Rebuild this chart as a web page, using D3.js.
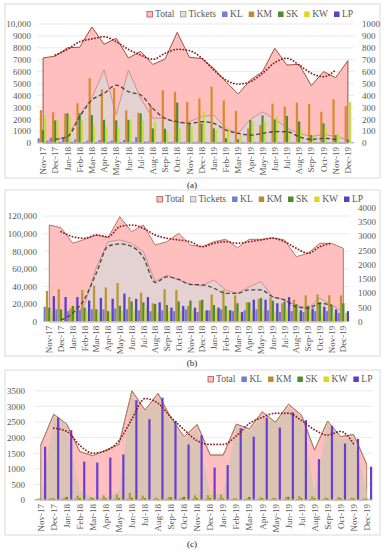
<!DOCTYPE html>
<html>
<head>
<meta charset="utf-8">
<script src="https://cdn.jsdelivr.net/npm/d3@7"></script>
<style>
body { margin: 0; background: #fff; }
</style>
</head>
<body>
<script>
var months = ["Nov-17","Dec-17","Jan-18","Feb-18","Mar-18","Apr-18","May-18","Jun-18","Jul-18","Aug-18","Sep-18","Oct-18",
	"Nov-18","Dec-18","Jan-19","Feb-19","Mar-19","Apr-19","May-19","Jun-19","Jul-19","Aug-19","Sep-19","Oct-19","Nov-19","Dec-19"];

// (a)
var totalA = [7150, 7300, 8000, 8050, 9750, 8300, 8800, 7150, 7700, 6600, 7050, 9300, 7200, 7100, 6280, 5150, 4120, 5290, 6000, 7960, 6550, 6610, 4820, 6000, 5490, 6920];
var totalTrendA = [null, 7390, 7870, 8510, 8740, 8930, 8510, 7870, 7390, 7030, 7530, 7870, 7760, 7150, 6130, 5290, 4950, 5150, 5860, 6750, 7120, 6550, 5860, 5570, 6130, null];
var ticketsA = [10, 30, 50, 235, 380, 613, 235, 613, 375, 207, 210, 165, 179, 221, 235, 125, 80, 200, 260, 200, 125, 80, 55, 70, 55, 25];
var ticketsTrendA = [null, 31, 53, 221, 361, 417, 487, 431, 403, 291, 207, 179, 165, 179, 165, 109, 81, 67, 81, 95, 95, 53, 30, 39, 30, null];
var klA = [400, 450, 450, 300, 200, 250, 200, 250, 500, 150, 100, 100, 100, 100, 50, 50, 50, 50, 50, 50, 50, 50, 50, 50, 50, 50];
var kmA = [2770, 2580, 2490, 3340, 5440, 4500, 4620, 2750, 2550, 3100, 4450, 4310, 3450, 3750, 4730, 3580, 2690, 1230, 1510, 3310, 3050, 3400, 3270, 2630, 3670, 3100];
var skA = [1090, 1900, 2490, 2490, 2350, 1950, 1900, 1950, 2490, 1230, 1200, 3400, 1650, 1650, 1230, 400, 300, 1930, 2320, 1960, 2280, 1820, 670, 1650, 670, 300];
var kwA = [2350, 1930, 2210, 1930, 1510, 1400, 1300, 1900, 1850, 1820, 950, 1230, 1400, 2630, 1090, 1230, 670, 1820, 1790, 2280, 1090, 1090, 670, 1370, 810, 3440];
var lpA = [120, 100, 100, 80, 80, 90, 80, 80, 100, 80, 80, 70, 70, 70, 60, 60, 60, 60, 60, 60, 60, 60, 60, 60, 60, 60];

// (b)
var totalB = [109900, 106800, 89100, 93600, 98500, 95500, 119300, 102300, 109900, 87200, 90900, 100400, 87200, 85200, 90900, 93600, 84100, 93600, 93600, 95500, 92800, 73900, 77700, 89100, 89100, 83400];
var totalTrendB = [null, 102300, 96600, 94800, 98500, 96600, 108000, 109900, 106100, 98500, 94800, 92800, 90900, 85200, 89100, 90900, 89100, 90900, 92800, 94800, 90900, 83400, 77700, 85200, 89100, null];
var ticketsB = [50, 250, 100, 600, 1900, 2800, 2860, 2740, 2450, 1400, 1630, 1460, 1310, 1250, 1460, 1110, 990, 1220, 1400, 870, 760, 580, 470, 820, 580, 350];
var ticketsTrendB = [null, 60, 300, 800, 1700, 2640, 2720, 2630, 2250, 1370, 1570, 1480, 1300, 1290, 1170, 990, 990, 1110, 1110, 870, 760, 520, 470, 640, 580, null];
var klB = [17000, 14000, 12000, 13000, 14000, 14000, 15000, 14000, 13000, 12000, 13000, 12000, 14000, 11000, 13000, 14000, 12000, 13000, 14000, 13000, 11000, 12000, 11000, 12000, 12000, 10000];
var kmB = [35000, 37000, 15000, 36000, 41000, 39000, 44000, 28000, 33000, 21000, 37000, 36000, 18000, 24000, 31000, 36000, 30000, 22000, 26000, 28000, 21000, 25000, 30000, 31000, 30000, 30000];
var skB = [16000, 14000, 18000, 16000, 14000, 12000, 18000, 23000, 22000, 20000, 19000, 23000, 24000, 25000, 19000, 18000, 21000, 22000, 27000, 24000, 23000, 20000, 18000, 22000, 19000, 21000];
var kwB = [12000, 10000, 17000, 12000, 10000, 10000, 12000, 14000, 15000, 11000, 12000, 12000, 13000, 12000, 14000, 13000, 10000, 13000, 13000, 12000, 14000, 11000, 12000, 10000, 9000, 10000];
var lpB = [29000, 28000, 28000, 24000, 27000, 26000, 32000, 26000, 28000, 22000, 16000, 18000, 16000, 13000, 16000, 13000, 11000, 25000, 25000, 21000, 28000, 13000, 15000, 17000, 14000, 12000];

// (c)
var totalC = [1760, 2750, 2430, 1550, 1420, 1600, 1780, 3500, 2880, 3420, 2620, 2030, 2420, 1440, 1440, 2430, 2280, 2830, 2490, 3070, 2720, 1600, 2530, 2030, 2100, 1150];
var innerC = [0, 2700, 2350, 300, 100, 100, 300, 3300, 2800, 3300, 2550, 1950, 2300, 200, 200, 2350, 2200, 2700, 2450, 2950, 2650, 300, 2450, 1950, 2000, 300];
var totalTrendC = [null, 2300, 2200, 1750, 1500, 1580, 1900, 2600, 3250, 3100, 2650, 2250, 1900, 1780, 1780, 2050, 2450, 2650, 2780, 2780, 2550, 2250, 2080, 2200, 1800, null];
var klC = [30, 40, 40, 40, 30, 40, 40, 40, 40, 30, 40, 40, 40, 40, 40, 30, 30, 30, 30, 30, 30, 30, 30, 30, 30, 30];
var kmC = [50, 60, 70, 140, 90, 150, 180, 230, 140, 80, 100, 80, 150, 160, 180, 60, 50, 80, 70, 100, 130, 120, 80, 100, 80, 50];
var skC = [40, 50, 100, 60, 60, 50, 60, 70, 60, 40, 80, 100, 60, 60, 50, 40, 100, 60, 50, 100, 60, 60, 50, 60, 50, 40];
var kwC = [40, 40, 60, 120, 80, 100, 120, 150, 80, 60, 60, 70, 150, 200, 90, 40, 40, 70, 50, 70, 60, 70, 50, 60, 50, 40];
var lpC = [1710, 2640, 2240, 1230, 1200, 1360, 1460, 3200, 2590, 3280, 2530, 1780, 2080, 1040, 1120, 2300, 2030, 2640, 2320, 2810, 2560, 1310, 2380, 1810, 1960, 1070];

var PINK = "#ffbfbf";
var colKL = "#6f7fd8", colSK = "#4e8a2e", colKW = "#c8dc3c", colLP = "#5a3fc8";
var FONT = "'Liberation Serif', 'Times New Roman', serif";

var svg = d3.select("body").append("svg")
	.attr("width", 385)
	.attr("height", 550);

var fmt = function (d) { return d >= 10000 ? d3.format(",")(d) : d; };

function drawPanel(p) {
	var g = svg.append("g");

	g.append("rect")
		.attr("x", p.box[0]).attr("y", p.box[1])
		.attr("width", p.box[2]).attr("height", p.box[3])
		.attr("fill", "#fff")
		.attr("stroke", "#d9d9d9");

	var x = d3.scaleBand().domain(months).range(p.xRange);
	var cx = function (i) { return x(months[i]) + x.bandwidth() / 2; };
	var yL = d3.scaleLinear().domain(p.left.domain).range(p.yRange);
	var yR = p.right ? d3.scaleLinear().domain(p.right.domain).range(p.yRange) : null;

	// gridlines
	g.selectAll("line.grid")
		.data(p.left.ticks.filter(function (d) { return d > 0; }))
		.enter().append("line")
		.attr("class", "grid")
		.attr("x1", p.xRange[0]).attr("x2", p.xRange[1])
		.attr("y1", function (d) { return yL(d); })
		.attr("y2", function (d) { return yL(d); })
		.attr("stroke", "#e3e3e3")
		.attr("stroke-width", 0.8);

	var areaL = d3.area()
		.x(function (d, i) { return cx(i); })
		.y0(yL(0))
		.y1(function (d) { return yL(d); });

	g.append("path")
		.datum(p.total)
		.attr("d", areaL)
		.attr("fill", PINK)
		.attr("stroke", p.totalStroke)
		.attr("stroke-width", 1);

	if (p.inner) {
		g.append("path")
			.datum(p.inner)
			.attr("d", areaL)
			.attr("fill", "#dcc4b4");
		g.append("path")
			.datum(p.total)
			.attr("d", d3.line().x(function (d, i) { return cx(i); }).y(function (d) { return yL(d); }))
			.attr("fill", "none")
			.attr("stroke", p.totalStroke)
			.attr("stroke-width", 1);
	}

	if (p.tickets) {
		var areaR = d3.area()
			.x(function (d, i) { return cx(i); })
			.y0(yR(0))
			.y1(function (d) { return yR(d); });
		g.append("path")
			.datum(p.tickets)
			.attr("d", areaR)
			.attr("fill", "rgba(218,218,218,0.72)")
			.attr("stroke", "#c98a8a")
			.attr("stroke-width", 0.9);
	}

	// clustered bars
	var inner = d3.scaleBand()
		.domain(p.bars.map(function (b) { return b.name; }))
		.range([-p.groupW / 2, p.groupW / 2]);

	p.bars.forEach(function (b) {
		g.append("g").selectAll("rect")
			.data(b.values)
			.enter().append("rect")
			.attr("x", function (d, i) { return cx(i) + inner(b.name); })
			.attr("y", function (d) { return yL(d); })
			.attr("width", inner.bandwidth())
			.attr("height", function (d) { return yL(0) - yL(d); })
			.attr("fill", b.color);
	});

	// trend lines
	var lineL = d3.line()
		.defined(function (d) { return d != null; })
		.x(function (d, i) { return cx(i); })
		.y(function (d) { return yL(d); })
		.curve(d3.curveMonotoneX);

	g.append("path")
		.datum(p.totalTrend)
		.attr("d", lineL)
		.attr("fill", "none")
		.attr("stroke", "#8b1c1c")
		.attr("stroke-width", 1.8)
		.attr("stroke-linecap", "round")
		.attr("stroke-dasharray", "0.1,3");

	if (p.ticketsTrend) {
		var lineR = d3.line()
			.defined(function (d) { return d != null; })
			.x(function (d, i) { return cx(i); })
			.y(function (d) { return yR(d); })
			.curve(d3.curveMonotoneX);
		g.append("path")
			.datum(p.ticketsTrend)
			.attr("d", lineR)
			.attr("fill", "none")
			.attr("stroke", "#444")
			.attr("stroke-width", 1.3)
			.attr("stroke-dasharray", "4,2.5");
	}

	// x axis line
	g.append("line")
		.attr("x1", p.xRange[0]).attr("x2", p.xRange[1])
		.attr("y1", yL(0)).attr("y2", yL(0))
		.attr("stroke", "#c8c8c8");

	// axes
	var ax = g.append("g")
		.attr("transform", "translate(0," + yL(0) + ")")
		.call(d3.axisBottom(x).tickSize(0));
	ax.select(".domain").remove();
	ax.selectAll("text")
		.attr("transform", "rotate(-90)")
		.attr("x", -4)
		.attr("y", 0)
		.attr("dy", "0.35em")
		.style("text-anchor", "end");

	var al = g.append("g")
		.attr("transform", "translate(" + p.left.labelX + ",0)")
		.call(d3.axisLeft(yL).tickValues(p.left.ticks).tickSize(0).tickPadding(0).tickFormat(fmt));
	al.select(".domain").remove();

	var allAxes = [ax, al];
	if (p.right) {
		var ar = g.append("g")
			.attr("transform", "translate(" + p.right.labelX + ",0)")
			.call(d3.axisRight(yR).tickValues(p.right.ticks).tickSize(0).tickPadding(0).tickFormat(fmt));
		ar.select(".domain").remove();
		allAxes.push(ar);
	}
	allAxes.forEach(function (a) {
		a.attr("font-family", FONT)
			.attr("font-size", 9)
			.attr("color", "#595959");
	});

	// legend
	var lx = p.legend.x;
	p.legend.items.forEach(function (it) {
		g.append("rect")
			.attr("x", lx).attr("y", p.legend.y - 5.5)
			.attr("width", 5.5).attr("height", 5.5)
			.attr("fill", it.fill)
			.attr("stroke", it.stroke || "none")
			.attr("stroke-width", 0.8);
		var t = g.append("text")
			.attr("x", lx + 8).attr("y", p.legend.y)
			.attr("font-family", FONT)
			.attr("font-size", 9.5)
			.attr("fill", "#595959")
			.text(it.name);
		lx += 8 + t.node().getComputedTextLength() + 6;
	});

	svg.append("text")
		.attr("x", 192).attr("y", p.caption.y)
		.attr("text-anchor", "middle")
		.attr("font-family", FONT)
		.attr("font-size", 9)
		.attr("fill", "#222")
		.text(p.caption.text);
}

var legendFull = [
	{name: "Total", fill: PINK, stroke: "#c0504d"},
	{name: "Tickets", fill: "#e0e0e0", stroke: "#999"},
	{name: "KL", fill: colKL},
	{name: "KM", fill: "#c08a30"},
	{name: "SK", fill: colSK},
	{name: "KW", fill: "#e0d820"},
	{name: "LP", fill: colLP}
];

drawPanel({
	box: [5, 4, 375, 174],
	xRange: [37, 354],
	yRange: [143, 24],
	groupW: 11,
	left: {domain: [0, 10000], ticks: d3.range(0, 10001, 1000), labelX: 31},
	right: {domain: [0, 1000], ticks: d3.range(0, 1001, 100), labelX: 362},
	total: totalA,
	totalStroke: "#a0503c",
	totalTrend: totalTrendA,
	tickets: ticketsA,
	ticketsTrend: ticketsTrendA,
	bars: [
		{name: "KL", values: klA, color: colKL},
		{name: "KM", values: kmA, color: "#d9892f"},
		{name: "SK", values: skA, color: colSK},
		{name: "KW", values: kwA, color: colKW},
		{name: "LP", values: lpA, color: colLP}
	],
	legend: {x: 147, y: 17, items: legendFull},
	caption: {text: "(a)", y: 188}
});

drawPanel({
	box: [5, 190, 375, 166],
	xRange: [43.4, 349.2],
	yRange: [321.7, 207.3],
	groupW: 11.4,
	left: {domain: [0, 130000], ticks: d3.range(0, 120001, 20000), labelX: 37},
	right: {domain: [0, 4000], ticks: d3.range(0, 4001, 500), labelX: 358},
	total: totalB,
	totalStroke: "#b07a6a",
	totalTrend: totalTrendB,
	tickets: ticketsB,
	ticketsTrend: ticketsTrendB,
	bars: [
		{name: "KL", values: klB, color: colKL},
		{name: "KM", values: kmB, color: "#b8963a"},
		{name: "SK", values: skB, color: colSK},
		{name: "KW", values: kwB, color: colKW},
		{name: "LP", values: lpB, color: colLP}
	],
	legend: {x: 157, y: 202, items: legendFull},
	caption: {text: "(b)", y: 366}
});

drawPanel({
	box: [5, 370, 375, 165],
	xRange: [34.2, 373.2],
	yRange: [500, 390.8],
	groupW: 11,
	left: {domain: [0, 3500], ticks: d3.range(0, 3501, 500), labelX: 25},
	right: null,
	total: totalC,
	inner: innerC,
	totalStroke: "#a08a6a",
	totalTrend: totalTrendC,
	tickets: null,
	ticketsTrend: null,
	bars: [
		{name: "KL", values: klC, color: colKL},
		{name: "KM", values: kmC, color: "#b8963a"},
		{name: "SK", values: skC, color: colSK},
		{name: "KW", values: kwC, color: "#e0d820"},
		{name: "LP", values: lpC, color: "#6a3fd0"}
	],
	legend: {x: 208, y: 382, items: [legendFull[0], legendFull[2], legendFull[3], legendFull[4], legendFull[5], legendFull[6]]},
	caption: {text: "(c)", y: 547}
});
</script>
</body>
</html>
